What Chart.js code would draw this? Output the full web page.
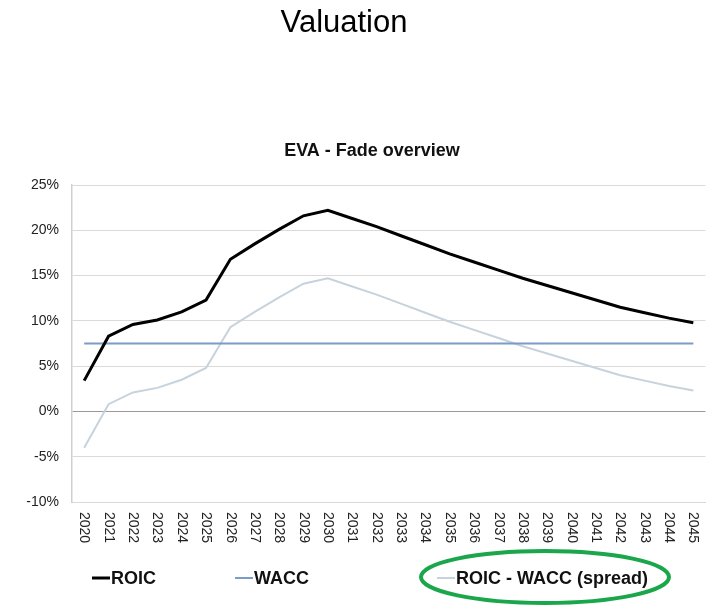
<!DOCTYPE html>
<html>
<head>
<meta charset="utf-8">
<script src="https://cdn.jsdelivr.net/npm/chart.js@4"></script>
<style>
html,body{margin:0;padding:0;background:#fff;}
#wrap{position:relative;width:726px;height:606px;}
canvas{display:block;}
</style>
</head>
<body>
<div id="wrap"><canvas id="c" width="726" height="606"></canvas></div>
<script>
const pageTitle = "Valuation";
const chartTitle = "EVA - Fade overview";
const years = ["2020","2021","2022","2023","2024","2025","2026","2027","2028","2029","2030","2031","2032","2033","2034","2035","2036","2037","2038","2039","2040","2041","2042","2043","2044","2045"];
const roic = [3.4, 8.3, 9.6, 10.1, 11.0, 12.3, 16.8, 18.5, 20.1, 21.6, 22.2, 21.3, 20.4, 19.4, 18.4, 17.4, 16.5, 15.6, 14.7, 13.9, 13.1, 12.3, 11.5, 10.9, 10.3, 9.8];
const wacc = [7.5, 7.5, 7.5, 7.5, 7.5, 7.5, 7.5, 7.5, 7.5, 7.5, 7.5, 7.5, 7.5, 7.5, 7.5, 7.5, 7.5, 7.5, 7.5, 7.5, 7.5, 7.5, 7.5, 7.5, 7.5, 7.5];
const spread = [-4.0, 0.8, 2.1, 2.6, 3.5, 4.8, 9.3, 11.0, 12.6, 14.1, 14.7, 13.8, 12.9, 11.9, 10.9, 9.9, 9.0, 8.1, 7.2, 6.4, 5.6, 4.8, 4.0, 3.4, 2.8, 2.3];
const seriesLabels = ["ROIC", "WACC", "ROIC - WACC (spread)"];
const yTicks = {min: -10, max: 25, step: 5};

const FONT = "'Liberation Sans', Arial, sans-serif";

const decor = {
  id: 'decor',
  afterDraw(chart) {
    const ctx = chart.ctx;
    const xs = chart.scales.x;
    ctx.save();
    // page title
    ctx.fillStyle = '#000';
    ctx.font = '31px ' + FONT;
    ctx.textAlign = 'center';
    ctx.textBaseline = 'alphabetic';
    ctx.fillText(pageTitle, 344, 32);
    // chart title
    ctx.font = 'bold 18px ' + FONT;
    ctx.fillStyle = '#111';
    ctx.fillText(chartTitle, 372, 156);
    // x tick labels rotated clockwise
    ctx.font = '14px ' + FONT;
    ctx.fillStyle = '#222';
    chart.data.labels.forEach((lab, i) => {
      const x = xs.getPixelForTick(i);
      ctx.save();
      ctx.translate(x, chart.chartArea.bottom + 10);
      ctx.rotate(Math.PI / 2);
      ctx.textAlign = 'left';
      ctx.textBaseline = 'middle';
      ctx.fillText(lab, 0, 0);
      ctx.restore();
    });
    // legend
    const legendPos = [92, 235, 437];
    const ly = 578;
    ctx.font = 'bold 18px ' + FONT;
    ctx.textAlign = 'left';
    ctx.textBaseline = 'middle';
    chart.data.datasets.forEach((ds, i) => {
      const lx = legendPos[i];
      ctx.strokeStyle = ds.borderColor;
      ctx.lineWidth = ds.borderWidth;
      ctx.beginPath();
      ctx.moveTo(lx, ly);
      ctx.lineTo(lx + 18, ly);
      ctx.stroke();
      ctx.fillStyle = '#111';
      ctx.fillText(ds.label, lx + 19, ly + 1);
    });
    // green highlight ellipse
    ctx.strokeStyle = '#1aa64b';
    ctx.lineWidth = 4;
    ctx.beginPath();
    ctx.ellipse(545, 577, 124, 26, 0, 0, Math.PI * 2);
    ctx.stroke();
    ctx.restore();
  }
};

new Chart(document.getElementById('c'), {
  type: 'line',
  data: {
    labels: years,
    datasets: [
      {label: seriesLabels[0], data: roic, borderColor: '#000000', borderWidth: 3, pointRadius: 0, tension: 0, order: 1},
      {label: seriesLabels[1], data: wacc, borderColor: '#7b9cc6', borderWidth: 2, pointRadius: 0, tension: 0, order: 2},
      {label: seriesLabels[2], data: spread, borderColor: '#c6d3dd', borderWidth: 2, pointRadius: 0, tension: 0, order: 3}
    ]
  },
  options: {
    responsive: false,
    animation: false,
    layout: {padding: {left: 0, right: 20.5, top: 185, bottom: 0}},
    plugins: {legend: {display: false}, title: {display: false}, tooltip: {enabled: false}},
    scales: {
      x: {
        offset: true,
        grid: {display: false},
        border: {display: true, color: '#d9d9d9', width: 1},
        ticks: {display: false},
        afterFit(s) { s.height = 104; }
      },
      y: {
        min: yTicks.min, max: yTicks.max,
        grid: {
          drawTicks: false,
          color: (c) => c.tick && c.tick.value === 0 ? '#9a9a9a' : '#dadada',
          lineWidth: 1
        },
        border: {display: true, color: '#cfcfcf', width: 1.5},
        ticks: {
          stepSize: yTicks.step,
          padding: 13,
          color: '#222',
          font: {family: FONT, size: 14},
          callback: (v) => v + '%'
        },
        afterFit(s) { s.width = 72; }
      }
    }
  },
  plugins: [decor]
});
</script>
</body>
</html>
